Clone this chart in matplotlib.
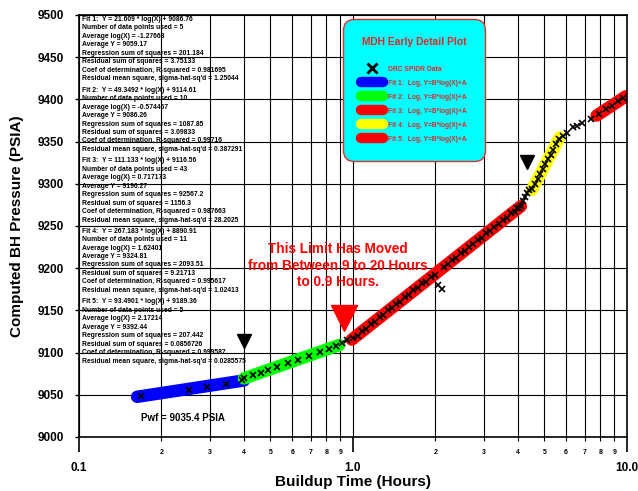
import matplotlib
matplotlib.use("Agg")
import matplotlib.pyplot as plt
from matplotlib.lines import Line2D
from matplotlib.ticker import FixedLocator, FuncFormatter

plt.rcParams["font.family"] = ["Liberation Sans", "DejaVu Sans"]
plt.rcParams["font.weight"] = "bold"

# measured points (hours, psia)
fit1_x = [0.168, 0.253, 0.294, 0.344, 0.394]
fit1_y = [9048.6, 9055.7, 9058.9, 9062.8, 9067.2]

fit2_x = [0.40, 0.43, 0.46, 0.49, 0.53, 0.58, 0.63, 0.69, 0.76, 0.82]
fit2_y = [9069.4, 9073.0, 9076.3, 9079.4, 9083.3, 9087.7, 9091.8, 9096.3, 9101.1, 9104.8]

gap1_x = [0.87, 0.91, 0.955]
gap1_y = [9108.0, 9111.5, 9115.0]

fit3_x = [1.00, 1.04, 1.08, 1.12, 1.16, 1.20, 1.25, 1.29, 1.34, 1.39,
          1.44, 1.49, 1.55, 1.60, 1.66, 1.72, 1.79, 1.85, 1.92, 1.99,
          2.05, 2.12, 2.14, 2.22, 2.30, 2.38, 2.47, 2.56, 2.65, 2.75,
          2.85, 2.95, 3.06, 3.17, 3.28, 3.40, 3.52, 3.65, 3.78, 3.90,
          3.98, 4.04, 4.10]
fit3_y = [9117.5, 9120.2, 9125.8, 9128.4, 9133.9, 9136.1, 9142.2, 9144.0, 9149.9, 9152.5,
          9157.8, 9160.1, 9166.0, 9168.1, 9173.6, 9176.0, 9182.0, 9184.2, 9189.8, 9192.3,
          9180.0, 9175.0, 9201.8, 9204.5, 9209.8, 9212.2, 9217.7, 9220.3, 9225.6, 9228.3,
          9233.7, 9236.1, 9241.6, 9244.1, 9249.3, 9251.9, 9257.1, 9259.7, 9265.0, 9267.1,
          9270.8, 9271.0, 9274.1]

gap2_x = [4.16, 4.23, 4.31, 4.39]
gap2_y = [9280.0, 9284.5, 9289.0, 9293.0]

fit4_x = [4.52, 4.62, 4.72, 4.82, 4.93, 5.04, 5.15, 5.26, 5.38, 5.51, 5.65]
fit4_y = [9294.0, 9299.8, 9305.5, 9311.1, 9317.1, 9323.0, 9328.8, 9334.5, 9340.5, 9346.9, 9353.6]

gap3_x = [5.85, 6.02, 6.34, 6.55, 6.83, 7.37]
gap3_y = [9357.0, 9360.0, 9367.0, 9369.0, 9372.0, 9377.0]

fit5_x = [7.9, 8.4, 8.8, 9.3, 9.7]
fit5_y = [9382.6, 9388.3, 9392.7, 9397.8, 9401.8]

# fitted line end points
band_x = [[0.163, 0.40], [0.40, 0.89], [0.99, 4.10], [4.50, 5.68], [7.75, 9.9]]
band_y = [[9047.6, 9067.0], [9069.4, 9108.9], [9115.4, 9273.4], [9292.8, 9355.0], [9380.8, 9403.6]]
band_colors = ["#0000ff", "#00ff00", "#ff0000", "#ffff00", "#ff0000"]

limit_x = [0.40, 4.33]
limit_y = [9113.7, 9325.8]
moved_x = [0.925]
moved_y = [9141.0]

fit_stats = [
    ["Fit 1:  Y = 21.609 * log(X) + 9086.76", "Number of data points used = 5",
     "Average log(X) = -1.27668", "Average Y = 9059.17",
     "Regression sum of squares = 201.184", "Residual sum of squares = 3.75133",
     "Coef of determination, R-squared = 0.981695",
     "Residual mean square, sigma-hat-sq'd = 1.25044"],
    ["Fit 2:  Y = 49.3492 * log(X) + 9114.61", "Number of data points used = 10",
     "Average log(X) = -0.574467", "Average Y = 9086.26",
     "Regression sum of squares = 1087.85", "Residual sum of squares = 3.09833",
     "Coef of determination, R-squared = 0.99716",
     "Residual mean square, sigma-hat-sq'd = 0.387291"],
    ["Fit 3:  Y = 111.133 * log(X) + 9116.56", "Number of data points used = 43",
     "Average log(X) = 0.717173", "Average Y = 9196.27",
     "Regression sum of squares = 92567.2", "Residual sum of squares = 1156.3",
     "Coef of determination, R-squared = 0.987663",
     "Residual mean square, sigma-hat-sq'd = 28.2025"],
    ["Fit 4:  Y = 267.183 * log(X) + 8890.91", "Number of data points used = 11",
     "Average log(X) = 1.62401", "Average Y = 9324.81",
     "Regression sum of squares = 2093.51", "Residual sum of squares = 9.21713",
     "Coef of determination, R-squared = 0.995617",
     "Residual mean square, sigma-hat-sq'd = 1.02413"],
    ["Fit 5:  Y = 93.4901 * log(X) + 9189.36", "Number of data points used = 5",
     "Average log(X) = 2.17214", "Average Y = 9392.44",
     "Regression sum of squares = 207.442", "Residual sum of squares = 0.0856726",
     "Coef of determination, R-squared = 0.999587",
     "Residual mean square, sigma-hat-sq'd = 0.0285575"],
]

major_x = [0.1, 1.0, 10.0]
major_labels = ["0.1", "1.0", "10.0"]
minor_x = [m * d for d in (0.1, 1.0) for m in range(2, 10)]
y_ticks = list(range(9000, 9501, 50))

fig = plt.figure(figsize=(6.38, 4.91), dpi=100)
ax = fig.add_axes([0.1238, 0.1100, 0.8589, 0.8595])
ax.set_xscale("log")
ax.set_xlim(0.1, 10)
ax.set_ylim(9000, 9500)

for bx, by, c in zip(band_x, band_y, band_colors):
    ax.plot(bx, by, color=c, lw=9, solid_capstyle="round", zorder=2)

all_x = fit1_x + fit2_x + gap1_x + fit3_x + gap2_x + fit4_x + gap3_x + fit5_x
all_y = fit1_y + fit2_y + gap1_y + fit3_y + gap2_y + fit4_y + gap3_y + fit5_y
ax.plot(all_x, all_y, ls="none", marker="x", color="k", ms=4.5, mew=1.2, zorder=3)

ax.plot(limit_x, limit_y, ls="none", marker="v", color="k", ms=10, zorder=3)
ax.plot(moved_x, moved_y, ls="none", marker="v", color="#ff0000", ms=19, zorder=3)

# ticks
ax.xaxis.set_major_locator(FixedLocator(major_x))
ax.xaxis.set_major_formatter(FuncFormatter(lambda v, p: major_labels[major_x.index(v)] if v in major_x else ""))
ax.xaxis.set_minor_locator(FixedLocator(minor_x))
ax.xaxis.set_minor_formatter(FuncFormatter(lambda v, p: "%d" % round(v * 10 if v < 1 else v)))
ax.tick_params(axis="x", which="major", length=11, width=1.2, pad=7, labelsize=8.5)
ax.tick_params(axis="x", which="minor", length=3, width=0.8, pad=6, labelsize=5)
ax.set_yticks(y_ticks)
ax.tick_params(axis="y", length=3, width=1, pad=8, labelsize=8.5)
for lab in ax.get_xticklabels(which="both") + ax.get_yticklabels():
    lab.set_fontweight("bold")

ax.set_axisbelow(True)
ax.grid(True, which="both", axis="x", color="k", lw=0.8)
ax.grid(True, which="major", axis="y", color="k", lw=0.8)
for s in ax.spines.values():
    s.set_linewidth(1.2)

ax.set_xlabel("Buildup Time (Hours)", fontsize=11, fontweight="bold")
ax.set_ylabel("Computed BH Pressure (PSIA)", fontsize=11, fontweight="bold")
ax.xaxis.set_label_coords(0.5, -0.09)
ax.yaxis.set_label_coords(-0.100, 0.5)

# regression summaries
block_top = [0.9976, 0.8300, 0.6626, 0.4960, 0.3284]
for top, lines in zip(block_top, fit_stats):
    ax.text(0.0055, top, "\n".join(lines), transform=ax.transAxes, fontsize=4.9,
            fontweight="bold", va="top", ha="left", linespacing=1.29, zorder=0.4)

ax.text(0.19, 0.0457, "Pwf = 9035.4 PSIA", transform=ax.transAxes, fontsize=7,
        fontweight="bold", ha="center", va="center")
ax.text(0.4726, 0.4060, "This Limit Has Moved\nfrom Between 9 to 20 Hours\nto 0.9 Hours.",
        transform=ax.transAxes, fontsize=9.8, fontweight="bold", color="#ff0000",
        ha="center", va="center", linespacing=1.25)

handles = [Line2D([], [], ls="none", marker="x", color="k", ms=7, mew=2)]
handles += [Line2D([], [], color=c, lw=7.5, solid_capstyle="round") for c in band_colors]
labels = ["DRC SPIDR Data"] + ["Fit %d:  Log, Y=B*log(X)+A" % (i + 1) for i in range(5)]
leg = ax.legend(handles, labels, loc="upper left", bbox_to_anchor=(0.4818, 0.9905),
                title="MDH Early Detail Plot\n",
                title_fontproperties={"weight": "bold", "size": 7.4},
                prop={"weight": "bold", "size": 4.8}, labelcolor="#e02828",
                facecolor="#00ffff", edgecolor="#e03030", framealpha=1, fancybox=True,
                handlelength=3.3, labelspacing=1.05, handletextpad=0.8, borderpad=2.7,
                borderaxespad=0)
leg.get_title().set_color("#e02828")
leg.get_frame().set_linewidth(1.0)
leg.get_frame().set_boxstyle("round,pad=0,rounding_size=1.6")

fig.savefig("out.png", dpi=100)
